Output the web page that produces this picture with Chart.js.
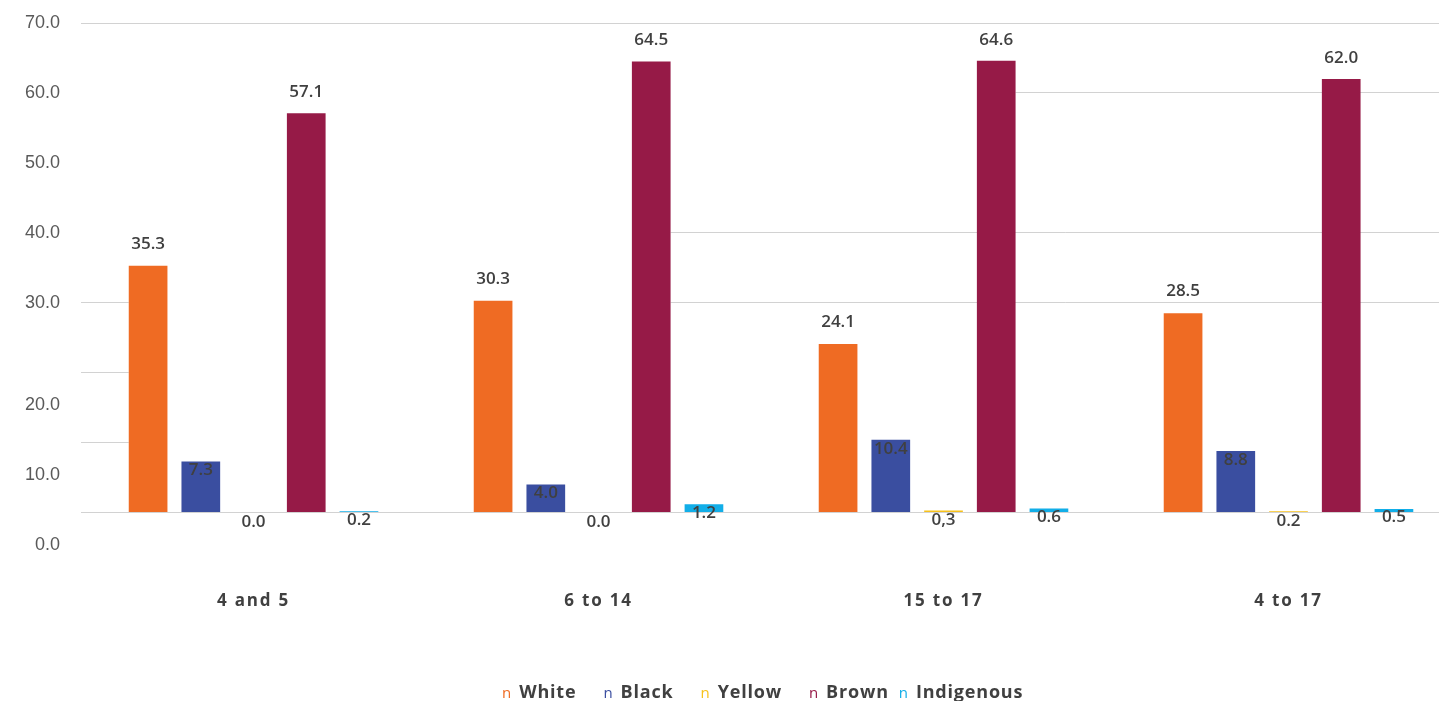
<!DOCTYPE html>
<html>
<head>
<meta charset="utf-8">
<title>School attendance by colour or race</title>
<script src="https://cdn.jsdelivr.net/npm/chart.js@4.4.1/dist/chart.umd.min.js"></script>
<style>
	html, body { margin: 0; padding: 0; background: #fff; overflow: hidden; }
	#wrap { position: relative; width: 1470px; height: 701px; }
	#mycanvas { position: absolute; left: 0; top: 0; }
	#legend {
		position: absolute; left: 502px; top: 680px;
		display: flex; white-space: nowrap;
		font: bold 18px "Open Sans", sans-serif; color: #404040;
		letter-spacing: 0.8px; line-height: 22px;
	}
	#legend .item { margin-right: 27px; }
	#legend .item.tight { margin-right: 10px; }
	#legend .mark { font-weight: normal; font-size: 15px; letter-spacing: 0; margin-right: 8px; }
</style>
</head>
<body>
<div id="wrap">
	<canvas id="mycanvas" width="1470" height="701"></canvas>
	<div id="legend"></div>
</div>
<script>
var ageGroups = ['4 and 5', '6 to 14', '15 to 17', '4 to 17'];
var seriesNames = ['White', 'Black', 'Yellow', 'Brown', 'Indigenous'];

var white = [35.3, 30.3, 24.1, 28.5];
var black = [7.3, 4.0, 10.4, 8.8];
var yellow = [0.0, 0.0, 0.3, 0.2];
var brown = [57.1, 64.5, 64.6, 62.0];
var indigenous = [0.2, 1.2, 0.6, 0.5];

// printed value labels for the yellow series (one uses a decimal comma)
var yellowText = ['0.0', '0.0', '0,3', '0.2'];

var yMin = 0, yMax = 70, yStep = 10;

var seriesValues = [white, black, yellow, brown, indigenous];
var colours = ['#EF6B23', '#3A4EA0', '#F7C21B', '#961A47', '#12AEE8'];
var gridColour = '#d2d2d2';

// vertical shift of each series' value label from the bar top
var labelShift = [-22, 9, 9.5, -21, 8.5];

// pieces of the inner gridlines: "before" runs from the axis to the left edge
// of a bar, "after" from the right edge of a bar to the end (refs are [group, series])
var gridPieces = [
	{ value: 60, after: [2, 3] },
	{ value: 40, after: [1, 3] },
	{ value: 30, before: [0, 0], after: [1, 3] },
	{ value: 20, before: [0, 0] },
	{ value: 10, before: [0, 0] }
];

var partialGrid = {
	id: 'partialGrid',
	beforeDatasetsDraw: function(chart) {
		var ctx = chart.ctx;
		var area = chart.chartArea;
		var yScale = chart.scales.y;
		function bar(ref) {
			return chart.getDatasetMeta(ref[1]).data[ref[0]];
		}
		ctx.save();
		ctx.strokeStyle = gridColour;
		ctx.lineWidth = 1;
		gridPieces.forEach(function(p) {
			var py = Math.round(yScale.getPixelForValue(p.value) - 0.5) + 0.5;
			ctx.beginPath();
			if (p.before) {
				var b = bar(p.before);
				ctx.moveTo(area.left, py);
				ctx.lineTo(b.x - b.width / 2, py);
			}
			if (p.after) {
				var a = bar(p.after);
				ctx.moveTo(a.x + a.width / 2, py);
				ctx.lineTo(area.right, py);
			}
			ctx.stroke();
		});
		ctx.restore();
	}
};

var valueLabels = {
	id: 'valueLabels',
	beforeDraw: function(chart) {
		chart.ctx.letterSpacing = '0px';
	},
	afterDatasetsDraw: function(chart) {
		var ctx = chart.ctx;
		ctx.save();
		ctx.font = '600 17px "Open Sans"';
		ctx.fillStyle = '#404040';
		ctx.textAlign = 'center';
		ctx.textBaseline = 'middle';
		chart.data.datasets.forEach(function(ds, d) {
			chart.getDatasetMeta(d).data.forEach(function(el, i) {
				var text = ds.valueText ? ds.valueText[i] : ds.data[i].toFixed(1);
				ctx.fillText(text, el.x, el.y + labelShift[d]);
			});
		});
		ctx.restore();
		// the category labels (ticks z: 1) are drawn next, slightly tracked out
		ctx.letterSpacing = '1.8px';
	},
	afterDraw: function(chart) {
		chart.ctx.letterSpacing = '0px';
	}
};

var datasets = [];
for (var k in seriesNames) {
	datasets.push({
		label: seriesNames[k],
		data: seriesValues[k],
		backgroundColor: colours[k],
		categoryPercentage: 0.764,
		barPercentage: 0.734
	});
}
datasets[2].valueText = yellowText;

var ctx = document.getElementById('mycanvas');

var barGraph = new Chart(ctx, {
	type: 'bar',
	data: {
		labels: ageGroups,
		datasets: datasets
	},
	plugins: [partialGrid, valueLabels],
	options: {
		responsive: false,
		animation: false,
		layout: { padding: { top: 23, left: 4, right: 9, bottom: 12 } },
		plugins: {
			legend: { display: false },
			tooltip: { enabled: false }
		},
		scales: {
			x: {
				grid: { display: false, drawTicks: false },
				border: { display: false },
				ticks: {
					z: 1,
					padding: 78,
					color: '#404040',
					font: { family: 'Open Sans', size: 17, weight: 'bold' }
				}
			},
			y: {
				min: yMin,
				max: yMax,
				afterFit: function(scale) {
					// the shifted lower labels must not squeeze the plot area
					scale.paddingTop = 0;
					scale.paddingBottom = 0;
				},
				grid: {
					drawTicks: false,
					color: function(c) {
						var v = c.tick ? c.tick.value : null;
						return (v === yMin || v === yMax) ? gridColour : 'rgba(0,0,0,0)';
					}
				},
				border: { display: false },
				ticks: {
					stepSize: yStep,
					autoSkip: false,
					padding: 21,
					color: '#595959',
					callback: function(v) {
						// the lower labels sit half a step below their lines
						return v <= 20 ? ['', v.toFixed(1)] : v.toFixed(1);
					},
					font: function(c) {
						var low = c.tick && c.tick.value <= 20;
						return { family: 'Liberation Sans', size: 18, lineHeight: low ? '64px' : 1.2 };
					}
				}
			}
		}
	}
});

var legend = document.getElementById('legend');
for (var j in seriesNames) {
	var item = document.createElement('span');
	item.className = seriesNames[j] === 'Brown' ? 'item tight' : 'item';
	var mark = document.createElement('span');
	mark.className = 'mark';
	mark.style.color = colours[j];
	mark.textContent = 'n';
	item.appendChild(mark);
	item.appendChild(document.createTextNode(seriesNames[j]));
	legend.appendChild(item);
}
</script>
</body>
</html>
